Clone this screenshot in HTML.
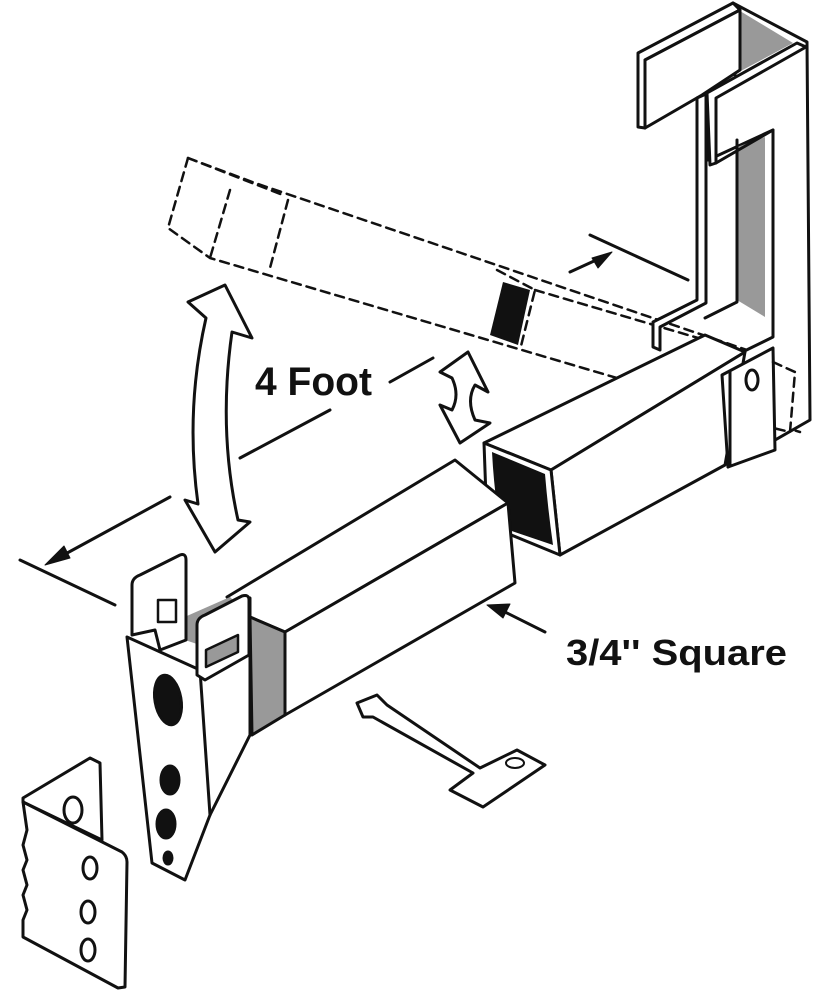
<!DOCTYPE html>
<html><head><meta charset="utf-8"><style>
html,body{margin:0;padding:0;background:#fff}
svg{display:block}
text{font-family:"Liberation Sans Narrow","Liberation Sans",sans-serif;font-weight:bold;fill:#111}
</style></head><body>
<svg width="832" height="990" viewBox="0 0 832 990" xmlns="http://www.w3.org/2000/svg" fill="none" stroke="#111" stroke-width="3" stroke-linejoin="round" stroke-linecap="round">
<!-- dashed bar -->
<g stroke-dasharray="9,6" stroke-width="2.5">
<polyline points="188,158 168,228 210,258 800,432"/>
<polyline points="188,158 255,183 800,368"/>
<polyline points="188,158 283,195"/>
<polyline points="230,190 210,258"/>
<polyline points="288,200 270,268"/>
<polyline points="497,270 535,290 520,350"/>
<polyline points="535,290 800,368 790,432"/>
</g>
<polygon points="503,282 530,290 518,345 490,335" fill="#111" stroke="none"/>
<!-- right bracket -->
<polygon points="733,3 807,42 810,420 728,467 722,362 773,337 773,130 708,160 708,93" fill="#fff"/>
<polygon points="735,8 793,43 737,73" fill="#999" stroke="none"/>
<polygon points="737,147 765,137 765,317 737,300" fill="#999" stroke="none"/>
<polyline points="733,3 735,75"/>
<polyline points="737,140 737,302 705,318"/>
<polygon points="638,53 733,3 740,10 645,60 645,128 638,127" fill="#fff"/>
<polygon points="645,60 740,10 740,70 702,95 645,128" fill="#fff"/>
<polygon points="697,98 706,94 706,303 660,327 660,350 653,347 653,322 697,300" fill="#fff"/>
<polygon points="707,93 797,43 806,47 716,98 716,163 710,165" fill="#fff"/>
<line x1="716" y1="163" x2="773" y2="130"/>
<!-- right tube -->
<polygon points="484,443 705,335 745,352 551,470" fill="#fff"/>
<polygon points="551,470 745,352 725,465 560,555" fill="#fff"/>
<polygon points="484,443 551,470 560,555 487,525" fill="#fff"/>
<path d="M492,452 L545,474 Q548,510 553,545 L500,527 Q494,490 492,452 Z" fill="#111" stroke="none"/>
<!-- bracket plate over tube -->
<polygon points="722,375 773,348 775,450 728,467" fill="#fff"/>
<line x1="730" y1="372" x2="730" y2="464"/>
<ellipse cx="752" cy="380" rx="6" ry="10" fill="#fff"/>
<g stroke-dasharray="9,6" stroke-width="2.5">
<polyline points="773,362 795,372 790,432 773,428"/>
</g>
<!-- dimension lines -->
<line x1="590" y1="235" x2="688" y2="280"/>
<line x1="570" y1="272" x2="605" y2="256"/>
<polygon points="612,252 592,258 598,268" fill="#111" stroke-width="1"/>
<line x1="20" y1="560" x2="115" y2="605"/>
<line x1="170" y1="497" x2="58" y2="558"/>
<polygon points="45,565 64,546 70,558" fill="#111" stroke-width="1"/>
<line x1="240" y1="458" x2="330" y2="410"/>
<line x1="390" y1="382" x2="433" y2="358"/>
<!-- big double arrow -->
<path d="M188,302 L225,285 L252,338 L232,332 Q218,430 238,520 L250,522 L215,552 L185,500 L198,504 Q185,410 206,318 Z" fill="#fff"/>
<!-- small double arrow -->
<path d="M440,372 L468,352 L488,392 L475,385 Q466,400 475,420 L490,423 L460,443 L440,405 L452,410 Q460,395 452,378 Z" fill="#fff"/>
<!-- front tube -->
<polygon points="227,597 455,460 508,503 285,632 250,617" fill="#fff"/>
<polygon points="285,632 508,503 515,583 285,715" fill="#fff"/>
<polygon points="250,617 285,632 285,715 252,735" fill="#999"/>
<polygon points="155,630 230,597 250,617 200,645" fill="#999" stroke="none"/>
<!-- end bracket -->
<polygon points="127,637 200,670 250,598 250,735 210,815 185,880 152,863" fill="#fff"/>
<line x1="200" y1="670" x2="210" y2="815"/>
<path d="M132,635 L132,585 Q132,578 140,575 L180,555 Q186,553 186,560 L186,640 L160,650 L155,630 Z" fill="#fff"/>
<rect x="158" y="600" width="18" height="22" fill="#fff" stroke-width="2.5"/>
<path d="M197,675 L197,625 Q197,618 205,615 L242,596 Q249,594 249,600 L249,655 L205,680 Z" fill="#fff"/>
<polygon points="206,650 238,635 238,652 206,667" fill="#999" stroke-width="2.5"/>
<ellipse cx="168" cy="700" rx="13" ry="25" fill="#111" transform="rotate(-10 168 700)"/>
<ellipse cx="170" cy="780" rx="9" ry="14" fill="#111"/>
<ellipse cx="166" cy="824" rx="9" ry="14" fill="#111"/>
<ellipse cx="168" cy="858" rx="4" ry="6" fill="#111"/>
<!-- T plate -->
<polygon points="357,703 377,695 387,705 480,768 517,750 545,765 483,807 450,790 473,773 373,717 363,717" fill="#fff"/>
<ellipse cx="515" cy="763" rx="9" ry="5" fill="#fff" stroke-width="2"/>
<!-- bottom-left bracket -->
<polygon points="23,798 90,758 100,763 102,840 23,802" fill="#fff"/>
<ellipse cx="73" cy="810" rx="9" ry="13" fill="#fff"/>
<path d="M23,802 L122,852 Q127,856 127,862 L125,987 L118,988 L23,937 L23,920 L27,910 L23,895 L27,885 L23,870 L27,860 L23,845 L27,830 Z" fill="#fff"/>
<ellipse cx="90" cy="868" rx="7" ry="11" fill="#fff"/>
<ellipse cx="88" cy="912" rx="7" ry="11" fill="#fff"/>
<ellipse cx="88" cy="950" rx="7" ry="11" fill="#fff"/>
<!-- label arrow -->
<line x1="545" y1="632" x2="505" y2="612"/>
<polygon points="487,605 510,604 503,618" fill="#111" stroke-width="1"/>
<text x="255" y="395" font-size="40" textLength="117" lengthAdjust="spacingAndGlyphs" stroke="none">4 Foot</text>
<text x="566" y="665" font-size="36" textLength="221" lengthAdjust="spacingAndGlyphs" stroke="none">3/4'' Square</text>
</svg>
</body></html>
